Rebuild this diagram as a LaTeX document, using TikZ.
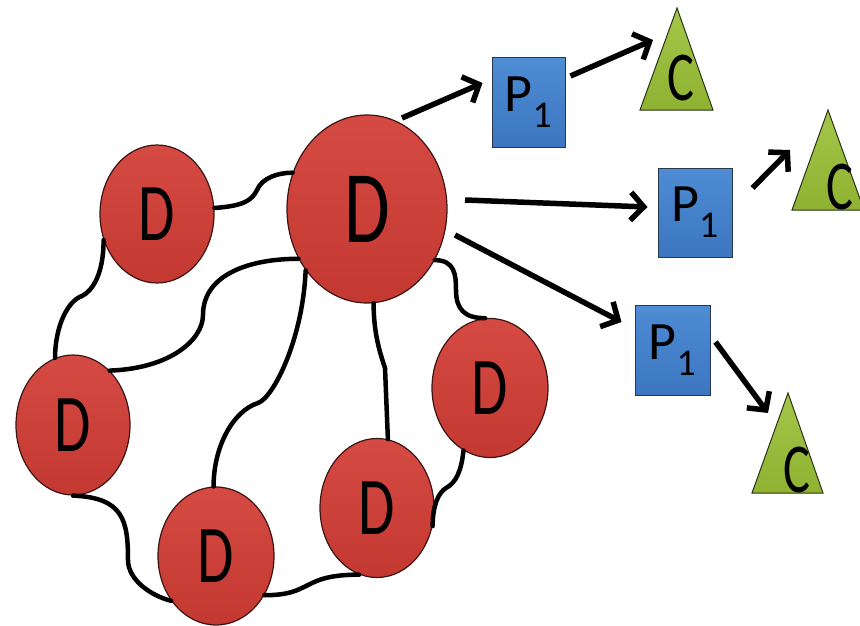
\documentclass[tikz,border=0pt]{standalone}
\usepackage{fontspec}
\setmainfont{Carlito}
\newfontfamily\condfont[FakeStretch=0.72]{Carlito}
\usetikzlibrary{arrows.meta,shapes.geometric}
\definecolor{redtop}{RGB}{214,74,68}
\definecolor{redbot}{RGB}{196,56,50}
\definecolor{redline}{RGB}{60,20,18}
\definecolor{bluetop}{RGB}{78,140,212}
\definecolor{bluebot}{RGB}{60,118,192}
\definecolor{blueline}{RGB}{40,55,80}
\definecolor{greentop}{RGB}{164,198,74}
\definecolor{greenbot}{RGB}{144,178,50}
\definecolor{greenline}{RGB}{40,50,20}
\begin{document}
\begin{tikzpicture}[x=1pt,y=-1pt,
  dnode/.style={ellipse, draw=redline, line width=1.2pt, top color=redtop, bottom color=redbot,
    inner sep=0pt, minimum width=114pt, minimum height=138pt,
    font=\condfont\fontsize{82}{82}\selectfont},
  bigd/.style={dnode, minimum width=160pt, minimum height=188pt, font=\condfont\fontsize{103}{103}\selectfont},
  pbox/.style={rectangle, draw=blueline, line width=1pt, top color=bluetop, bottom color=bluebot,
    inner sep=0pt, minimum width=74pt, minimum height=89pt, font=\fontsize{54}{54}\selectfont},
  tri/.style={draw=greenline, line width=1pt, top color=greentop, bottom color=greenbot, line join=miter},
  ctext/.style={inner sep=0pt, font=\condfont\fontsize{70}{70}\selectfont},
  link/.style={line width=4.5pt, black, line cap=round},
  arr/.style={line width=5.5pt, black, -{Straight Barb[length=13pt,width=28pt]}}]
\useasboundingbox (0,0) rectangle (860,626);

% triangles
\path[tri] (677,8) -- (640,110) -- (713,110) -- cycle;
\path[tri] (828,110) -- (792,210) -- (864,210) -- cycle;
\path[tri] (788,393) -- (752,493) -- (823,493) -- cycle;
\node[ctext] (c1) at (681,78) {C};
\node[ctext] (c2) at (840,187) {C};
\node[ctext] (c3) at (797,470) {C};

% D nodes
\node[bigd] (d0) at (367,209) {D};
\node[dnode] (d1) at (157,214) {D};
\node[dnode, minimum height=140pt] (d2) at (73,425) {D};
\node[dnode, minimum width=116pt] (d3) at (216,556) {D};
\node[dnode, minimum height=139pt] (d4) at (377,508) {D};
\node[dnode, minimum width=116pt, minimum height=139pt] (d5) at (490,388) {D};

% P boxes
\node[pbox, minimum width=73pt] (p1) at (528.5,102.5) {P\textsubscript{1}};
\node[pbox] (p2) at (695,212.5) {P\textsubscript{1}};
\node[pbox, minimum width=75pt, minimum height=90pt] (p3) at (672.5,350) {P\textsubscript{1}};

% links
\draw[link] (d1.6) .. controls +(30,-2) and +(-5,10) .. (257,190)
            .. controls +(5,-12) and +(-15,0) .. (d0.154);
\draw[link] (d1.206) .. controls +(0,35) and +(10,-5) .. (82,296)
            .. controls +(-15,5) and +(0,-30) .. (d2.105);
\draw[link] (d2.56) .. controls +(60,-2) and +(0,25) .. (203,315)
            .. controls +(0,-40) and +(-50,0) .. (d0.216);
\draw[link] (d0.225) .. controls +(-3,70) and +(15,-5) .. (258,403)
            .. controls +(-25,8) and +(0,-40) .. (d3.92);
\draw[link] (d0.274) .. controls +(0,30) and +(-5,-15) .. (385,368) -- (d4.81);
\draw[link] (d0.323) .. controls +(20,0) and +(0,-15) .. (456,290)
            .. controls +(0,20) and +(-20,0) .. (d5.94);
\draw[link] (d5.247) .. controls +(-2,20) and +(10,-5) .. (446,488)
            .. controls +(-8,5) and +(0,-20) .. (d4.342);
\draw[link] (d4.255) .. controls +(-30,0) and +(10,-5) .. (308,585)
            .. controls +(-10,5) and +(25,0) .. (d3.321);
\draw[link] (d2.270) .. controls +(50,2) and +(0,-40) .. (128,560)
            .. controls +(0,20) and +(-20,-5) .. (d3.225);

% arrows
\draw[arr] ([xshift=35pt,yshift=91pt]d0.center) -- ([xshift=-9pt,yshift=19.5pt]p1.west);
\draw[arr] ([xshift=5pt,yshift=26.5pt]p1.east) -- ([xshift=-28pt,yshift=38pt]c1.center);
\draw[arr] ([xshift=98pt,yshift=9pt]d0.center) -- ([xshift=-10pt,yshift=5.5pt]p2.west);
\draw[arr] ([xshift=20pt,yshift=24.5pt]p2.east) -- ([xshift=-50pt,yshift=37pt]c2.center);
\draw[arr] ([xshift=88pt,yshift=-26pt]d0.center) -- ([xshift=-13pt,yshift=28pt]p3.west);
\draw[arr] ([xshift=5pt,yshift=8pt]p3.east) -- ([xshift=-29pt,yshift=57pt]c3.center);
\end{tikzpicture}
\end{document}
